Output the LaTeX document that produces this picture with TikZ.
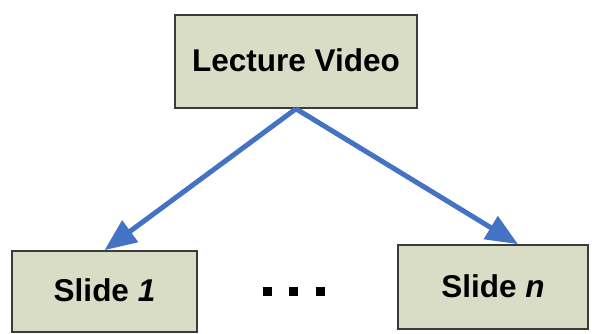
\documentclass[tikz,border=0pt]{standalone}
\usepackage{fontspec}
\setmainfont{Liberation Sans}
\usetikzlibrary{arrows.meta,calc}
\definecolor{boxfill}{HTML}{D9DDC5}
\definecolor{boxline}{HTML}{3A3A3A}
\definecolor{linkblue}{HTML}{4472C4}
\tikzset{
  block/.style={draw=boxline, line width=1.6pt, fill=boxfill, inner sep=0pt,
    font=\bfseries\fontsize{31.5}{38}\selectfont},
  link/.style={draw=linkblue, line width=5pt,
    -{Triangle[length=32pt,width=26pt]}},
  dotmark/.style={fill=black, inner sep=0pt, minimum size=9pt}
}
\begin{document}
\begin{tikzpicture}[x=1pt,y=1pt]
  \useasboundingbox (0,0) rectangle (592,334);
  % parent node
  \node[block, minimum width=242pt, minimum height=93pt] (lv) at (296,272.5)
    {\raisebox{3pt}{Lecture Video}};
  % child nodes
  \node[block, minimum width=185pt, minimum height=81pt] (s1) at (104.5,42.5)
    {\raisebox{2.5pt}{Slide \textit{1}}};
  \node[block, minimum width=190pt, minimum height=84pt] (sn) at (493,47)
    {\raisebox{2.5pt}{Slide \textit{n}}};
  % ellipsis between the children
  \node[dotmark] (d1) at (267,42) {};
  \node[dotmark] (d2) at (293,42) {};
  \node[dotmark] (d3) at (320,42) {};
  % connectors
  \coordinate (tipn) at ($(sn.north)+(25,0)$);
  \draw[link] (lv.south) -- (s1.north);
  \draw[link] (lv.south) -- (tipn);
\end{tikzpicture}
\end{document}
